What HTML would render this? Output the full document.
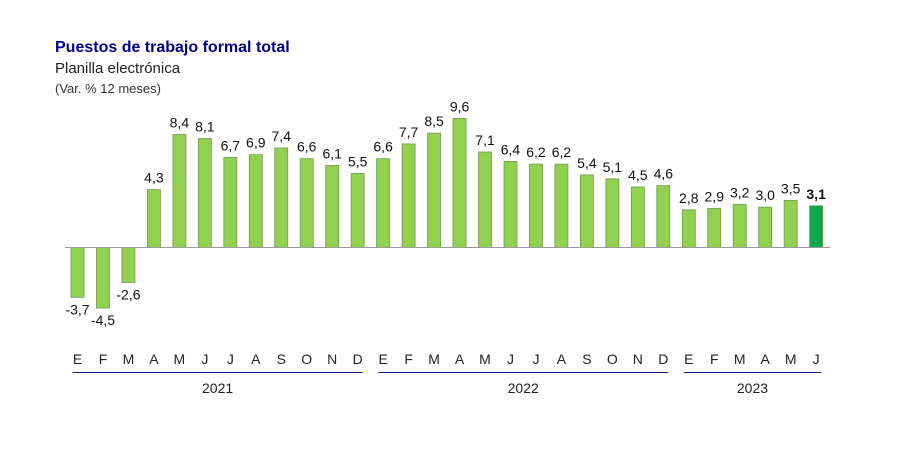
<!DOCTYPE html>
<html><head><meta charset="utf-8"><style>
body{margin:0;background:#fff;}
svg{display:block;font-family:"Liberation Sans",Arial,sans-serif;}
</style></head><body>
<svg id="chart" width="901" height="459" viewBox="0 0 901 459">
<text x="55" y="52" font-size="16" font-weight="bold" fill="#00008b">Puestos de trabajo formal total</text>
<text x="55" y="73" font-size="15" fill="#222">Planilla electrónica</text>
<text x="55" y="93" font-size="13" fill="#333">(Var. % 12 meses)</text>
<g id="bars"></g>
<line x1="65" x2="830" y1="247.5" y2="247.5" stroke="#999" stroke-width="1"/>
<g id="xaxis"></g>
</svg>
<script>
const months=["E","F","M","A","M","J","J","A","S","O","N","D","E","F","M","A","M","J","J","A","S","O","N","D","E","F","M","A","M","J"];
const values=[-3.7,-4.5,-2.6,4.3,8.4,8.1,6.7,6.9,7.4,6.6,6.1,5.5,6.6,7.7,8.5,9.6,7.1,6.4,6.2,6.2,5.4,5.1,4.5,4.6,2.8,2.9,3.2,3.0,3.5,3.1];
const years=["2021","2022","2023"];
const yearStarts=[0,12,24];
const yearEnds=[11,23,29];
const NS="http://www.w3.org/2000/svg";
const x0=77.5,step=25.47,zeroY=247.5,k=13.45,bw=13;
const xs=i=>x0+i*step;
const ys=v=>zeroY-v*k;
const bars=document.getElementById('bars'),ax=document.getElementById('xaxis');
function mk(t,a,p){const e=document.createElementNS(NS,t);for(const n in a)e.setAttribute(n,a[n]);p.appendChild(e);return e;}
values.forEach((v,i)=>{
 const last=i===values.length-1;
 const r=mk('rect',{x:xs(i)-bw/2,y:Math.min(ys(v),zeroY),width:bw,height:Math.abs(ys(v)-zeroY),fill:last?'#10a64a':'#92d050',stroke:'#6f9a4a','stroke-width':0.8},bars);
 
 
 const ty=v>=0?ys(v)-7:ys(v)+17;
 const t=mk('text',{x:xs(i),y:ty,'text-anchor':'middle','font-size':14,fill:'#111','font-weight':last?'bold':'normal'},bars);
 t.textContent=v.toFixed(1).replace('.',',');
 
 
});
months.forEach((m,i)=>{
 const t=mk('text',{x:xs(i),y:364,'text-anchor':'middle','font-size':14,fill:'#222'},ax);
 t.textContent=m;
 
 
});
years.forEach((y,j)=>{
 const a=xs(yearStarts[j])-5,b=xs(yearEnds[j])+5;
 const l=mk('line',{x1:a,x2:b,y1:372.5,y2:372.5,stroke:'#1a237e','stroke-width':1},ax);
 
 
 const t=mk('text',{x:(a+b)/2,y:393,'text-anchor':'middle','font-size':14,fill:'#222'},ax);
 t.textContent=y;
 
 
});
</script>
</body></html>
